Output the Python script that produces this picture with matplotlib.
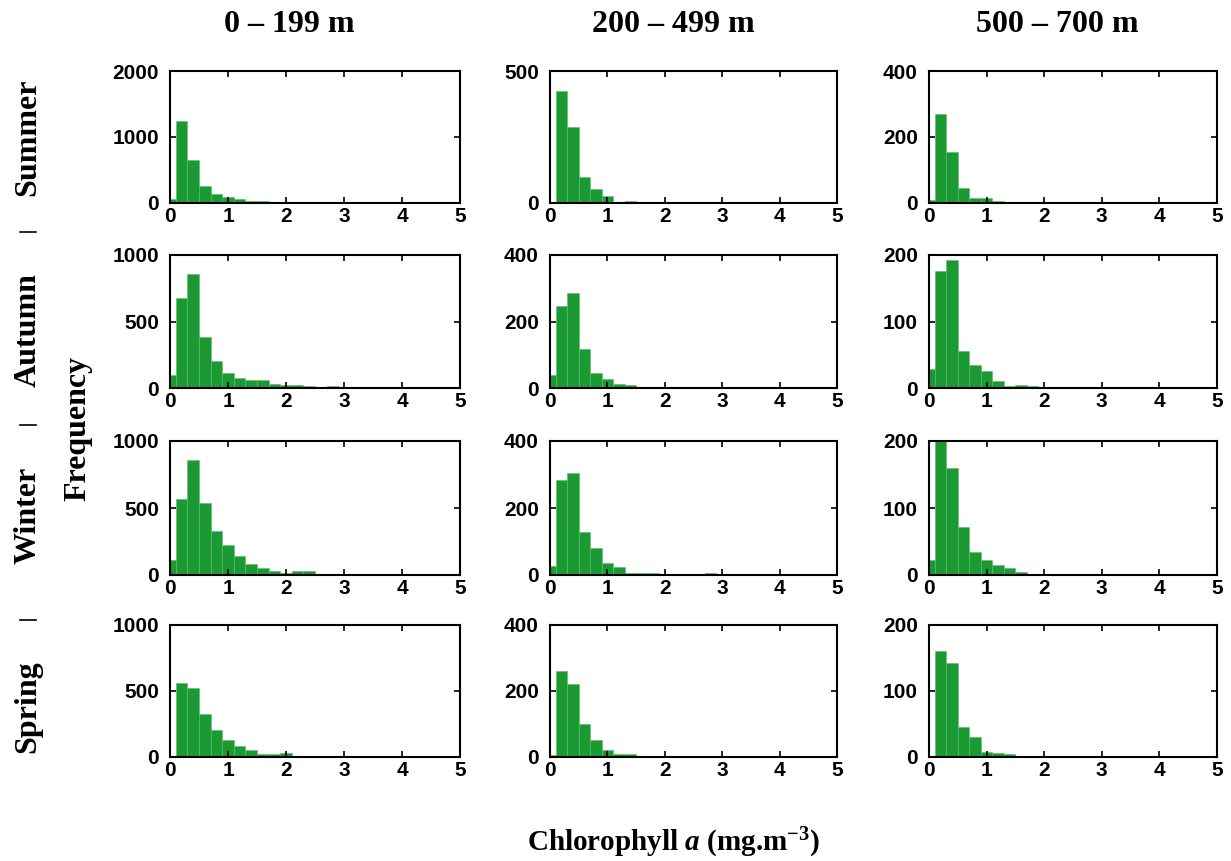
import matplotlib.pyplot as plt
import numpy as np
from matplotlib.lines import Line2D

plt.rcParams['mathtext.fontset'] = 'custom'
plt.rcParams['mathtext.rm'] = 'Liberation Serif:bold'
plt.rcParams['mathtext.it'] = 'Liberation Serif:italic:bold'
plt.rcParams['mathtext.bf'] = 'Liberation Serif:bold'

depths = ["0 – 199 m", "200 – 499 m", "500 – 700 m"]
seasons = ["Summer", "Autumn", "Winter", "Spring"]
bin_width = 0.2  # histogram bins centred on 0, 0.2, 0.4 ...

# counts per bin, one list per depth band
summer = [
    [60, 1250, 650, 260, 135, 90, 60, 30, 25, 20, 15],
    [5, 425, 288, 100, 52, 27, 2, 8],
    [10, 270, 155, 45, 16, 16, 5],
]
autumn = [
    [100, 675, 860, 385, 205, 110, 75, 60, 60, 28, 25, 25, 12, 3, 12],
    [40, 246, 287, 117, 46, 28, 12, 8, 4, 4, 4],
    [28, 176, 193, 55, 35, 25, 10, 3, 5, 3, 1],
]
winter = [
    [115, 570, 855, 535, 325, 225, 140, 80, 55, 30, 15, 30, 30, 10],
    [26, 283, 303, 129, 80, 35, 25, 5, 5, 5, 0, 0, 0, 0, 5],
    [22, 210, 160, 71, 35, 23, 15, 10, 5, 2, 0, 0, 0, 2, 0, 2],
]
spring = [
    [10, 563, 523, 327, 206, 131, 80, 55, 20, 20, 30, 10, 8, 8, 8],
    [6, 260, 220, 101, 52, 22, 8, 8, 4],
    [0, 160, 143, 46, 31, 8, 6, 4, 2],
]
all_counts = [summer, autumn, winter, spring]

yticks = [
    [[0, 1000, 2000], [0, 500], [0, 200, 400]],
    [[0, 500, 1000], [0, 200, 400], [0, 100, 200]],
    [[0, 500, 1000], [0, 200, 400], [0, 100, 200]],
    [[0, 500, 1000], [0, 200, 400], [0, 100, 200]],
]

W, H = 1231, 861
fig = plt.figure(figsize=(W / 100, H / 100), dpi=100)

# panel edges in pixels
lefts = [170, 550, 929]
rights = [460, 837, 1217]
tops = [71, 255, 441, 625]
bottoms = [203, 388, 575, 757]

bar_color = '#1b9a33'
tick_font = dict(family='Liberation Sans', weight='bold', size=15)

for r in range(4):
    for c in range(3):
        ax = fig.add_axes([lefts[c] / W, 1 - bottoms[r] / H,
                           (rights[c] - lefts[c]) / W, (bottoms[r] - tops[r]) / H])
        counts = all_counts[r][c]
        centers = np.arange(len(counts)) * bin_width
        ax.bar(centers, counts, width=bin_width, color=bar_color,
               edgecolor='#5dbb6f', linewidth=0.4)
        ax.set_xlim(0, 5)
        ax.set_ylim(0, yticks[r][c][-1])
        ax.set_xticks(range(6))
        ax.set_yticks(yticks[r][c])
        ax.tick_params(direction='in', length=4, width=1.2, top=True, right=True)
        ax.tick_params(axis='y', pad=8)
        ax.tick_params(axis='x', pad=3)
        for lab in ax.get_xticklabels() + ax.get_yticklabels():
            lab.set_fontproperties(tick_font)
        for s in ax.spines.values():
            s.set_linewidth(1.5)

title_font = dict(family='Liberation Serif', weight='bold', size=23)
for x, txt in zip([289, 673, 1057], depths):
    fig.text(x / W, 1 - 25 / H, txt, ha='center', va='center', **title_font)

for y, txt in zip([137, 330, 515, 707], seasons):
    fig.text(28 / W, 1 - y / H, txt, ha='center', va='center', rotation=90, **title_font)
# short separators between the season names
for y in [232, 425, 620]:
    fig.add_artist(Line2D([20 / W, 36 / W], [1 - y / H, 1 - y / H], color='black', lw=1.2))

fig.text(78 / W, 1 - 428 / H, 'Frequency', ha='center', va='center', rotation=90, **title_font)
fig.text(673 / W, 1 - 843 / H, r'Chlorophyll $a$ (mg.m$^{-3}$)', ha='center', va='center',
         family='Liberation Serif', weight='bold', size=21)

fig.savefig('out.png', dpi=100)
